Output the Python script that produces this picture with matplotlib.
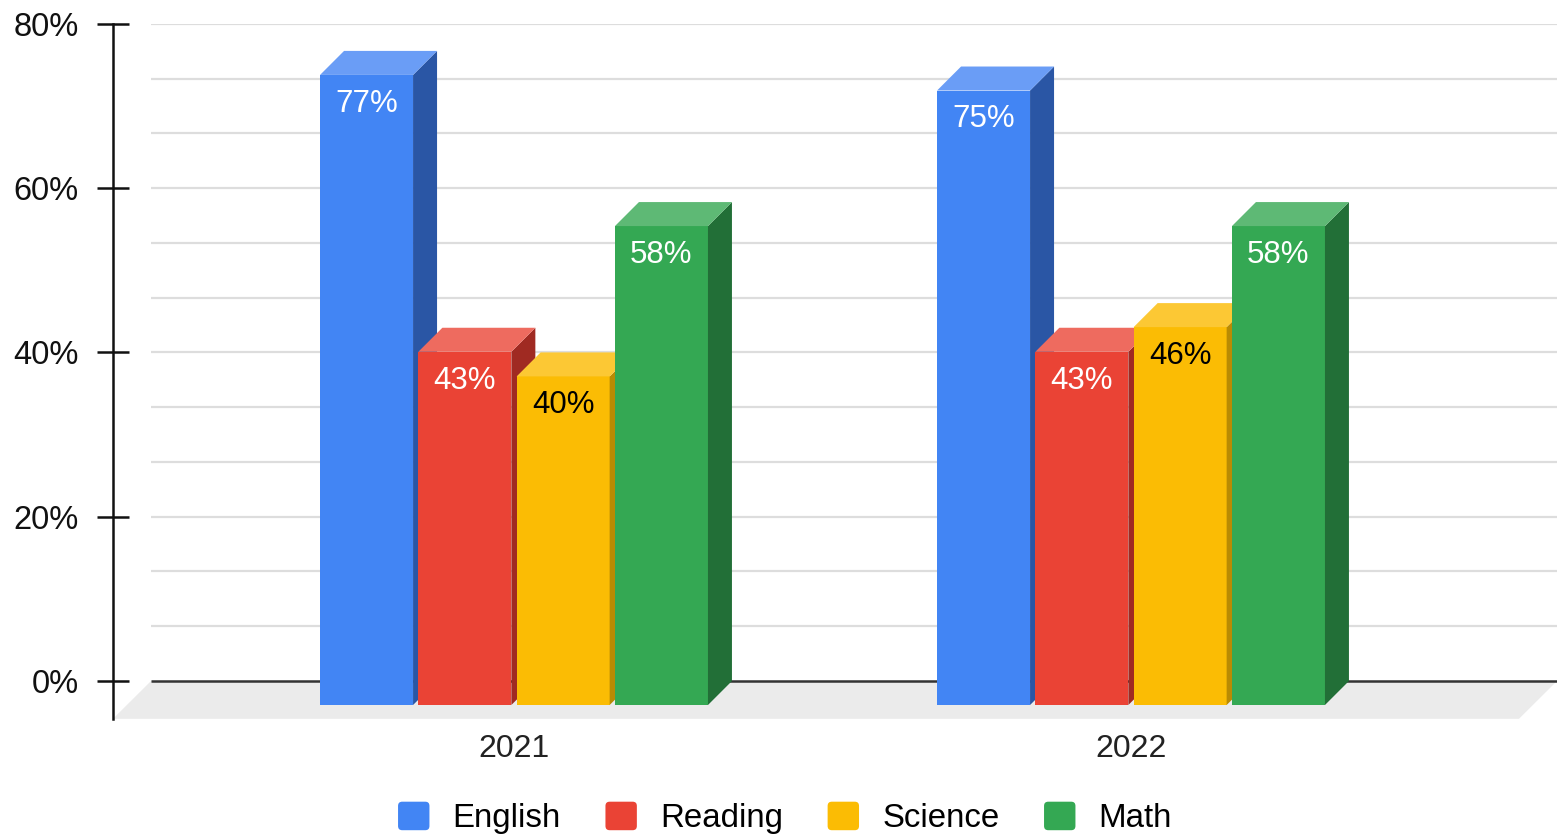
import matplotlib.pyplot as plt
from matplotlib.patches import Polygon, Patch, FancyBboxPatch
from matplotlib.legend_handler import HandlerPatch
import numpy as np

plt.rcParams['font.family'] = ['Liberation Sans', 'DejaVu Sans']

years = ["2021", "2022"]
subjects = ["English", "Reading", "Science", "Math"]
values = {
    "English": [77, 75],
    "Reading": [43, 43],
    "Science": [40, 46],
    "Math": [58, 58],
}
# plotted heights (back-plane)
heights = {
    "English": [76.7, 74.8],
    "Reading": [43.0, 43.0],
    "Science": [40.0, 46.0],
    "Math": [58.3, 58.3],
}

front = {"English": "#4285F4", "Reading": "#EA4335", "Science": "#FBBC04", "Math": "#34A853"}
side = {"English": "#2A56A5", "Reading": "#A02A22", "Science": "#B98B03", "Math": "#226F37"}
top = {"English": "#6A9DF6", "Reading": "#EE6B5F", "Science": "#FCC834", "Math": "#5EB975"}
text_col = {"English": "white", "Reading": "white", "Science": "black", "Math": "white"}


class RoundSquare(HandlerPatch):
    def create_artists(self, legend, orig_handle, xdescent, ydescent, width, height, fontsize, trans):
        p = FancyBboxPatch((-xdescent, -ydescent), width, height,
                           boxstyle="round,pad=0,rounding_size=3",
                           fc=orig_handle.get_facecolor(), ec="none", transform=trans)
        return [p]


W, H, DPI = 1557, 839, 100
px_y = 8.2125          # pixels per percent
px_x = 617.0           # pixels per category step

fig = plt.figure(figsize=(W / DPI, H / DPI), dpi=DPI)
ax = fig.add_axes([113 / W, 120.2 / H, 1444 / W, (719 - 24) / H])
xl, xr = (113 - 514) / px_x, (1557 - 514) / px_x
yb, yt = -4.6, 80
ax.set_xlim(xl, xr)
ax.set_ylim(yb, yt)

bar_w = 93 / px_x
step = 98.3 / px_x
dxb = 24 / px_x
dyb = 24 / px_y
fdx = 38 / px_x

# floor
ax.add_patch(Polygon([(xl, yb), (xr - fdx, yb), (xr, 0), (xl + fdx, 0)],
                     closed=True, fc="#EBEBEB", ec="none", zorder=1))

# gridlines
grid = np.arange(80 / 12, 80.01, 80 / 12)
ax.hlines(grid, xl + fdx, xr, colors="#DDDDDD", lw=1.6, zorder=0)
ax.hlines(0, xl + fdx, xr, colors="#333333", lw=1.8, zorder=1.5)

x = np.arange(len(years))
for i, s in enumerate(subjects):
    off = (i - 1.5) * step
    for j in range(len(years)):
        x0 = x[j] + off - bar_w / 2
        x1 = x0 + bar_w
        v = heights[s][j]
        z = 2 + i * 0.1
        ax.add_patch(Polygon([(x0, -dyb), (x1, -dyb), (x1, v - dyb), (x0, v - dyb)],
                             fc=front[s], ec="none", zorder=z))
        ax.add_patch(Polygon([(x1, -dyb), (x1 + dxb, 0), (x1 + dxb, v), (x1, v - dyb)],
                             fc=side[s], ec="none", zorder=z))
        ax.add_patch(Polygon([(x0, v - dyb), (x1, v - dyb), (x1 + dxb, v), (x0 + dxb, v)],
                             fc=top[s], ec="none", zorder=z))
        ax.text((x0 + x1) / 2, v - dyb - 3.5, f"{values[s][j]}%", ha="center", va="center",
                fontsize=22.5, color=text_col[s], zorder=5)

for k in ["top", "right", "bottom"]:
    ax.spines[k].set_visible(False)
ax.spines["left"].set_linewidth(1.8)
ax.spines["left"].set_color("#111111")

ax.set_yticks([0, 20, 40, 60, 80])
ax.set_yticklabels([f"{t}%" for t in [0, 20, 40, 60, 80]], fontsize=23.5)
ax.tick_params(axis="y", direction="inout", length=23, width=1.8, pad=13, colors="#111111")
ax.set_xticks(x)
ax.set_xticklabels(years, fontsize=23)
ax.tick_params(axis="x", length=0, pad=11, colors="#222222")

handles = [Patch(fc=front[s], ec="none", label=s) for s in subjects]
fig.legend(handles=handles, loc="center", bbox_to_anchor=(785 / W, 1 - 818 / H), ncol=4,
           frameon=False, fontsize=23.8, handlelength=0.95, handleheight=0.95,
           handletextpad=0.7, columnspacing=1.35,
           handler_map={Patch: RoundSquare()})

fig.savefig("out.png", dpi=DPI)
